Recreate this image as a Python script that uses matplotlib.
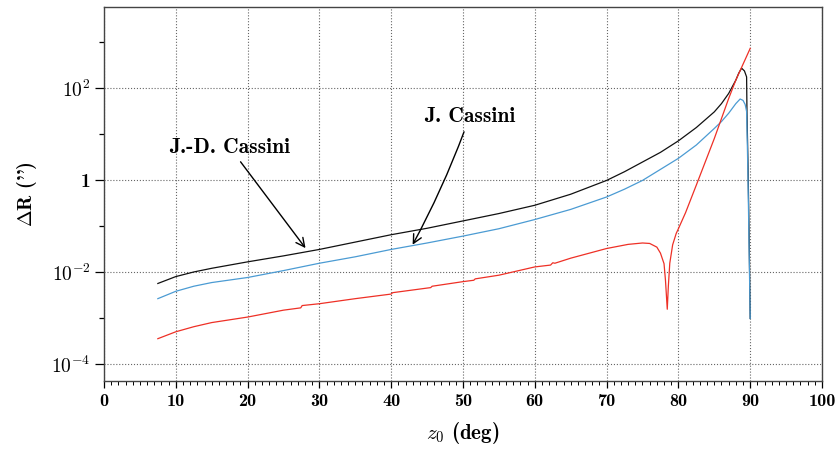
import matplotlib
matplotlib.use("Agg")
import matplotlib.pyplot as plt
from matplotlib.ticker import FixedLocator, FuncFormatter, MultipleLocator
import numpy as np

plt.rcParams['mathtext.fontset'] = 'cm'
plt.rcParams['font.family'] = ['cmb10', 'DejaVu Serif']
plt.rcParams['axes.unicode_minus'] = False

# J.-D. Cassini (black), log10 of Delta R
z_jd = [7.5, 10, 12.5, 15, 20, 25, 30, 35, 40, 45, 50, 55, 60, 65, 70, 72.5, 75,
        77.5, 80, 82.5, 85, 86, 87, 88, 88.4, 88.8, 89.2, 89.5, 89.55, 89.7, 89.85, 90]
lg_jd = [-2.24, -2.09, -1.99, -1.91, -1.77, -1.64, -1.50, -1.34, -1.18, -1.04, -0.88,
         -0.72, -0.54, -0.30, 0.00, 0.19, 0.40, 0.61, 0.86, 1.15, 1.49, 1.67, 1.89, 2.18,
         2.33, 2.44, 2.38, 2.25, 1.5, 0.3, -1.2, -3.0]

# J. Cassini (blue)
z_j = [7.5, 10, 12.5, 15, 20, 25, 30, 35, 40, 45, 50, 55, 60, 65, 70, 72.5, 75,
       77.5, 80, 82.5, 85, 86, 87, 88, 88.6, 89.0, 89.3, 89.5, 89.6, 89.7, 89.8, 89.9, 90]
lg_j = [-2.57, -2.41, -2.30, -2.22, -2.11, -1.96, -1.80, -1.66, -1.50, -1.36, -1.21,
        -1.05, -0.85, -0.63, -0.36, -0.19, 0.00, 0.24, 0.48, 0.77, 1.13, 1.28, 1.46, 1.67,
        1.77, 1.74, 1.65, 1.50, 0.8, 0.0, -1.0, -2.0, -3.0]

# third series (red)
z_r = [7.5, 10, 12.5, 15, 20, 25, 27.4, 27.6, 30, 35, 40, 40.2, 45, 45.5, 45.7, 50,
       51.5, 51.7, 55, 60, 62.2, 62.5, 62.8, 65, 70, 73, 75, 76, 77, 77.5, 78, 78.2,
       78.45, 78.6, 78.8, 79.2, 79.7, 80, 81, 82.5, 85, 87, 88, 90]
lg_r = [-3.44, -3.29, -3.18, -3.09, -2.97, -2.82, -2.77, -2.72, -2.68, -2.57, -2.47,
        -2.44, -2.34, -2.33, -2.30, -2.20, -2.17, -2.14, -2.06, -1.88, -1.84, -1.79,
        -1.80, -1.69, -1.48, -1.39, -1.36, -1.37, -1.45, -1.58, -1.81, -2.17, -2.80,
        -2.30, -1.80, -1.40, -1.15, -1.05, -0.70, -0.10, 0.91, 1.78, 2.18, 2.87]

fig = plt.figure(figsize=(8.38, 4.51), dpi=100)
ax = fig.add_axes([0.1241, 0.1552, 0.8568, 0.8293])

ax.plot(z_jd, 10 ** np.array(lg_jd), color="#111111", lw=0.9)
ax.plot(z_j, 10 ** np.array(lg_j), color="#4b9bd3", lw=0.9)
ax.plot(z_r, 10 ** np.array(lg_r), color="#ee3026", lw=0.9)

ax.set_yscale("log")
ax.set_xlim(0, 100)
ax.set_ylim(10 ** -4.36, 10 ** 3.77)

ax.xaxis.set_major_locator(MultipleLocator(10))
ax.xaxis.set_minor_locator(MultipleLocator(1))
ax.yaxis.set_major_locator(FixedLocator([1e-4, 1e-2, 1, 1e2]))
ax.yaxis.set_minor_locator(FixedLocator([1e-3, 1e-1, 10, 1e3]))


def ylab(v, pos):
	e = int(round(np.log10(v)))
	if e == 0:
		return "1"
	return r"$\mathbf{10^{%d}}$" % e


ax.yaxis.set_major_formatter(FuncFormatter(ylab))
ax.yaxis.set_minor_formatter(FuncFormatter(lambda v, p: ""))

ax.tick_params(axis="x", which="major", direction="out", length=5, width=0.9, labelsize=13, pad=4)
ax.tick_params(axis="x", which="minor", direction="out", length=3, width=0.7)
ax.tick_params(axis="y", which="major", direction="out", length=6.5, width=0.9, labelsize=14, pad=3)
ax.tick_params(axis="y", which="minor", direction="out", length=3.5, width=0.9)

ax.grid(True, which="major", linestyle=":", color="#666666", lw=0.8)
for s in ax.spines.values():
	s.set_color("#444444")
	s.set_linewidth(1.0)

ax.set_xlabel(r"$z_0$ (deg)", fontsize=15, labelpad=8)
ax.set_ylabel("$\\mathbf{\\Delta}$R ('')", fontsize=14.5, labelpad=9)

ax.annotate("J.-D. Cassini", xy=(28.3, 10 ** -1.52), xytext=(17.5, 10 ** 0.72),
	fontsize=15.5, ha="center", va="center",
	arrowprops=dict(arrowstyle="->", color="black", lw=1.0))
ax.annotate("J. Cassini", xy=(42.8, 10 ** -1.45), xytext=(50.9, 10 ** 1.38),
	fontsize=15.5, ha="center", va="center",
	arrowprops=dict(arrowstyle="->", color="black", lw=1.0,
		connectionstyle="arc3,rad=-0.04"))

fig.savefig("out.png", dpi=100)
